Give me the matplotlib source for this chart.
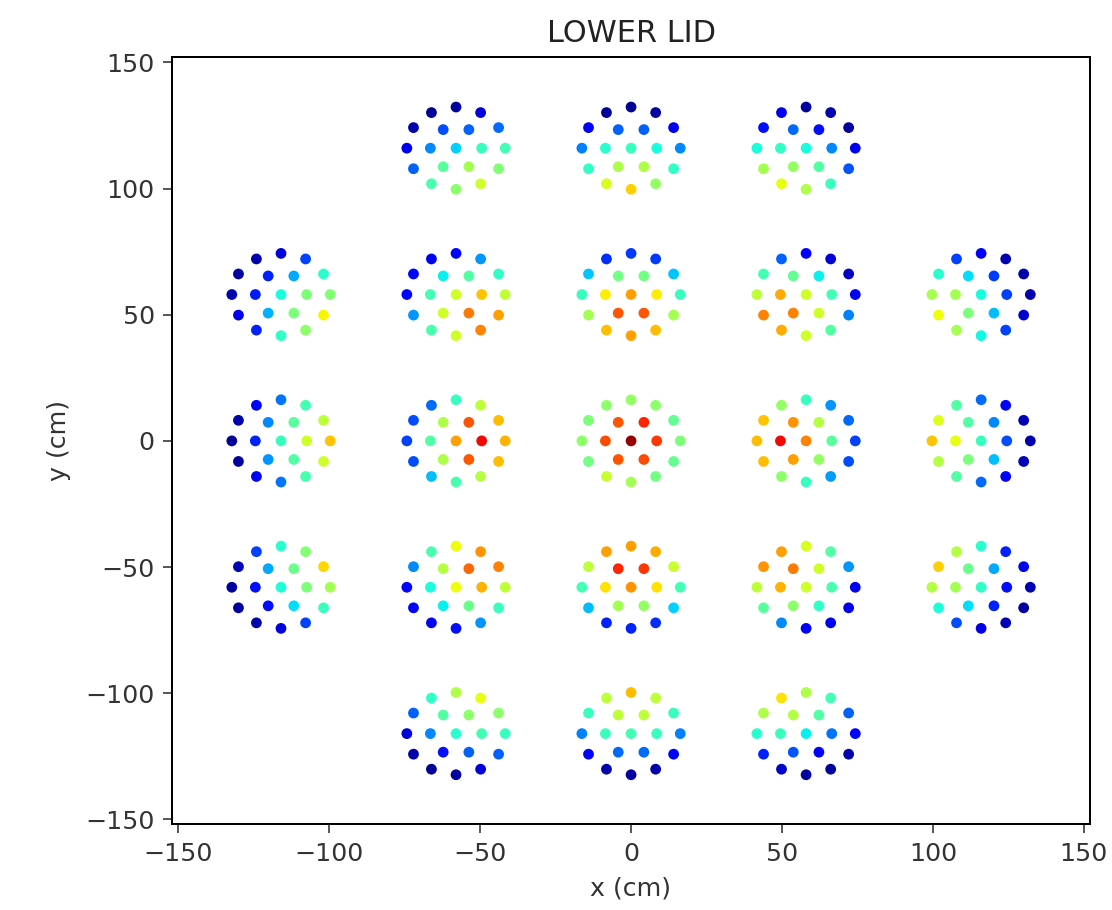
import numpy as np
import matplotlib
matplotlib.use('Agg')
import matplotlib.pyplot as plt

plt.rcParams['font.size'] = 12.6
plt.rcParams['axes.titlesize'] = 15.2
plt.rcParams['axes.titlepad'] = 7.5
plt.rcParams['axes.labelpad'] = 5
plt.rcParams['axes.linewidth'] = 1.0
plt.rcParams['xtick.major.size'] = 4.4
plt.rcParams['ytick.major.size'] = 4.4
plt.rcParams['xtick.major.pad'] = 4.4
plt.rcParams['ytick.major.pad'] = 4.4
plt.rcParams['xtick.color'] = '#333333'
plt.rcParams['ytick.color'] = '#333333'
plt.rcParams['axes.labelcolor'] = '#333333'

# module centres on the lower lid (cm)
module_x = [-58, 0, 58,
            -116, -58, 0, 58, 116,
            -116, -58, 0, 58, 116,
            -116, -58, 0, 58, 116,
            -58, 0, 58]
module_y = [116, 116, 116,
            58, 58, 58, 58, 58,
            0, 0, 0, 0, 0,
            -58, -58, -58, -58, -58,
            -116, -116, -116]

# PMT offsets inside one module (cm), read row by row from top to bottom
pmt_dx = [-8.15, 0.0, 8.15,
          -14.1, -4.25, 4.25, 14.1,
          -16.3, -8.5, 0.0, 8.5, 16.3,
          -14.1, -4.25, 4.25, 14.1,
          -8.15, 0.0, 8.15]
pmt_dy = [14.1, 16.3, 14.1,
          8.15, 7.36, 7.36, 8.15,
          0.0, 0.0, 0.0, 0.0, 0.0,
          -8.15, -7.36, -7.36, -8.15,
          -14.1, -16.3, -14.1]

# relative signal per PMT, same order as the offsets above
pmt_signal = [
    # y = 116
    [0.02, 0.03, 0.08, 0.04, 0.20, 0.22, 0.23, 0.10, 0.26, 0.33, 0.42, 0.43,
     0.22, 0.46, 0.55, 0.51, 0.44, 0.52, 0.60],
    [0.03, 0.02, 0.03, 0.12, 0.22, 0.22, 0.10, 0.25, 0.40, 0.42, 0.38, 0.26,
     0.41, 0.56, 0.56, 0.41, 0.61, 0.69, 0.53],
    [0.10, 0.03, 0.04, 0.14, 0.23, 0.14, 0.03, 0.38, 0.41, 0.38, 0.26, 0.10,
     0.55, 0.53, 0.45, 0.21, 0.63, 0.56, 0.42],
    # y = 58
    [0.04, 0.08, 0.19, 0.03, 0.16, 0.29, 0.40, 0.04, 0.15, 0.38, 0.50, 0.51,
     0.10, 0.30, 0.50, 0.65, 0.16, 0.41, 0.52],
    [0.10, 0.13, 0.27, 0.11, 0.36, 0.45, 0.41, 0.13, 0.43, 0.60, 0.70, 0.58,
     0.27, 0.60, 0.78, 0.74, 0.44, 0.60, 0.77],
    [0.17, 0.18, 0.18, 0.32, 0.49, 0.49, 0.32, 0.42, 0.66, 0.74, 0.66, 0.42,
     0.55, 0.82, 0.82, 0.55, 0.71, 0.74, 0.71],
    [0.22, 0.12, 0.08, 0.43, 0.47, 0.36, 0.06, 0.58, 0.73, 0.60, 0.43, 0.10,
     0.77, 0.77, 0.60, 0.25, 0.73, 0.60, 0.45],
    [0.19, 0.11, 0.04, 0.40, 0.34, 0.18, 0.04, 0.55, 0.55, 0.38, 0.19, 0.04,
     0.64, 0.50, 0.31, 0.07, 0.55, 0.37, 0.19],
    # y = 0
    [0.11, 0.24, 0.43, 0.04, 0.26, 0.46, 0.58, 0.02, 0.16, 0.42, 0.60, 0.70,
     0.03, 0.27, 0.45, 0.60, 0.11, 0.24, 0.44],
    [0.23, 0.42, 0.58, 0.20, 0.56, 0.82, 0.71, 0.19, 0.45, 0.74, 0.90, 0.72,
     0.20, 0.56, 0.82, 0.71, 0.31, 0.44, 0.57],
    [0.52, 0.53, 0.52, 0.50, 0.82, 0.87, 0.47, 0.52, 0.83, 0.98, 0.85, 0.50,
     0.49, 0.82, 0.83, 0.47, 0.59, 0.55, 0.49],
    [0.53, 0.42, 0.27, 0.70, 0.75, 0.57, 0.23, 0.71, 0.90, 0.77, 0.46, 0.19,
     0.71, 0.74, 0.53, 0.20, 0.52, 0.42, 0.28],
    [0.45, 0.23, 0.12, 0.62, 0.45, 0.26, 0.05, 0.70, 0.63, 0.42, 0.20, 0.04,
     0.57, 0.50, 0.31, 0.05, 0.45, 0.23, 0.12],
    # y = -58
    [0.19, 0.40, 0.51, 0.05, 0.29, 0.48, 0.68, 0.03, 0.14, 0.39, 0.50, 0.55,
     0.03, 0.14, 0.34, 0.42, 0.04, 0.08, 0.19],
    [0.44, 0.64, 0.75, 0.26, 0.57, 0.80, 0.77, 0.13, 0.38, 0.64, 0.72, 0.58,
     0.12, 0.36, 0.48, 0.42, 0.11, 0.14, 0.27],
    [0.74, 0.74, 0.73, 0.58, 0.87, 0.85, 0.59, 0.43, 0.67, 0.75, 0.67, 0.43,
     0.31, 0.55, 0.53, 0.33, 0.16, 0.16, 0.17],
    [0.74, 0.61, 0.45, 0.75, 0.78, 0.60, 0.27, 0.58, 0.72, 0.60, 0.44, 0.10,
     0.46, 0.52, 0.41, 0.10, 0.26, 0.12, 0.10],
    [0.57, 0.40, 0.16, 0.69, 0.48, 0.29, 0.10, 0.57, 0.55, 0.41, 0.14, 0.05,
     0.39, 0.34, 0.16, 0.03, 0.20, 0.09, 0.05],
    # y = -116
    [0.41, 0.56, 0.63, 0.22, 0.45, 0.52, 0.52, 0.08, 0.26, 0.40, 0.43, 0.42,
     0.04, 0.14, 0.22, 0.22, 0.02, 0.03, 0.08],
    [0.58, 0.71, 0.58, 0.42, 0.58, 0.58, 0.42, 0.25, 0.42, 0.43, 0.42, 0.25,
     0.12, 0.23, 0.23, 0.12, 0.04, 0.03, 0.04],
    [0.67, 0.56, 0.43, 0.56, 0.57, 0.45, 0.22, 0.40, 0.42, 0.36, 0.24, 0.11,
     0.16, 0.21, 0.12, 0.04, 0.07, 0.03, 0.03],
]

x = np.array([[cx + dx for dx in pmt_dx] for cx in module_x]).ravel()
y = np.array([[cy + dy for dy in pmt_dy] for cy in module_y]).ravel()
c = np.array(pmt_signal).ravel()

fig = plt.figure(figsize=(1112 / 144, 910 / 144), dpi=144)
ax = fig.add_axes([0.155, 0.094, 0.825, 0.843])
ax.scatter(x, y, c=c, cmap='jet', vmin=0, vmax=1, s=29, linewidths=0)
ax.set_xlim(-152, 152)
ax.set_ylim(-152, 152)
ax.set_xticks([-150, -100, -50, 0, 50, 100, 150])
ax.set_yticks([-150, -100, -50, 0, 50, 100, 150])
ax.set_xlabel('x (cm)')
ax.set_ylabel('y (cm)', labelpad=7)
ax.set_title('LOWER LID', color='#222222')

fig.savefig('out.png', dpi=144)
